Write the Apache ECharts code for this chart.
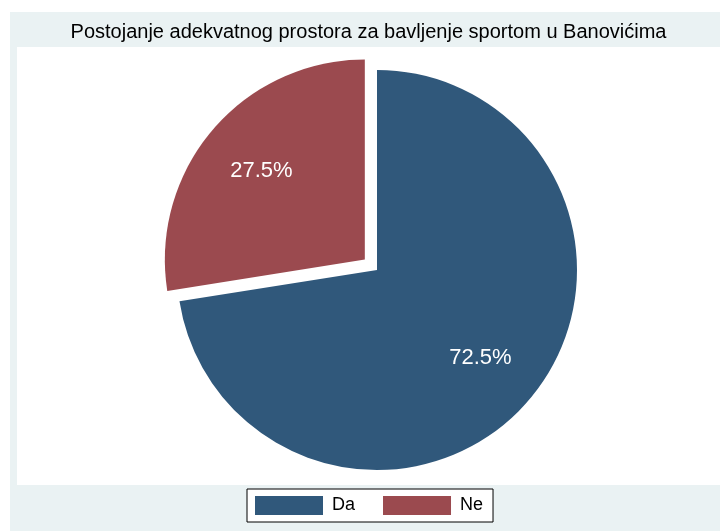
<!DOCTYPE html>
<html>
<head>
<meta charset="utf-8">
<title>Postojanje adekvatnog prostora za bavljenje sportom u Banovićima</title>
<script src="https://cdn.jsdelivr.net/npm/echarts@6/dist/echarts.min.js"></script>
<style>
  html, body { margin: 0; padding: 0; background: #ffffff; }
  #chart { width: 720px; height: 531px; }
</style>
</head>
<body>
<div id="chart"></div>
<script>
// Survey answers and their shares (percent)
const categories = ['Da', 'Ne'];
const shares = [72.5, 27.5];
const sliceColors = ['#30587B', '#9B4A4F'];
const chartTitle = 'Postojanje adekvatnog prostora za bavljenje sportom u Banovićima';

const FONT = '"Liberation Sans", Arial, Helvetica, sans-serif';
const CENTER = [377, 270];
const RADIUS = 200;
// labels sit at about two thirds of the radius instead of the default half
const LABEL_RADIUS = 133;

const total = shares.reduce((a, b) => a + b, 0);
let acc = 0;
const pieData = categories.map((name, i) => {
  const midFrac = (acc + shares[i] / 2) / total;
  acc += shares[i];
  // angle measured clockwise from 12 o'clock
  const ang = midFrac * 2 * Math.PI;
  const extra = LABEL_RADIUS - RADIUS / 2;
  const offset = [extra * Math.sin(ang), -extra * Math.cos(ang)];
  return {
    name: name,
    value: shares[i],
    selected: name === 'Ne',
    itemStyle: { color: sliceColors[i] },
    label: { offset: offset },
    select: { itemStyle: { color: sliceColors[i] }, label: { offset: offset } }
  };
});

const chart = echarts.init(document.getElementById('chart'), null, { renderer: 'canvas' });

chart.setOption({
  animation: false,
  backgroundColor: '#ffffff',
  graphic: [
    { type: 'rect', z: -10, silent: true,
      shape: { x: 10, y: 12, width: 710, height: 519 },
      style: { fill: '#EAF2F3' } },
    { type: 'rect', z: -9, silent: true,
      shape: { x: 17, y: 47, width: 703, height: 438 },
      style: { fill: '#ffffff' } },
    { type: 'text', silent: true,
      x: 368.5, y: 32,
      style: {
        text: chartTitle, fill: '#000000',
        font: '20px ' + FONT,
        align: 'center', verticalAlign: 'middle'
      } }
  ],
  legend: {
    data: categories,
    orient: 'horizontal',
    left: 247,
    top: 489,
    padding: [7, 10, 7, 8],
    itemWidth: 68,
    itemHeight: 19,
    itemGap: 28,
    icon: 'rect',
    borderColor: '#000000',
    borderWidth: 1,
    backgroundColor: '#ffffff',
    selectedMode: false,
    textStyle: { fontSize: 18, color: '#000000', fontFamily: FONT, padding: [0, 0, 0, 4] }
  },
  series: [{
    type: 'pie',
    center: CENTER,
    radius: [0, RADIUS],
    startAngle: 90,
    clockwise: true,
    selectedMode: 'single',
    selectedOffset: 16,
    percentPrecision: 1,
    avoidLabelOverlap: false,
    itemStyle: { borderWidth: 0 },
    emphasis: { disabled: true },
    label: {
      show: true,
      position: 'inside',
      formatter: '{d}%',
      color: '#ffffff',
      fontSize: 22,
      fontFamily: FONT
    },
    labelLine: { show: false },
    data: pieData
  }]
});
</script>
</body>
</html>
